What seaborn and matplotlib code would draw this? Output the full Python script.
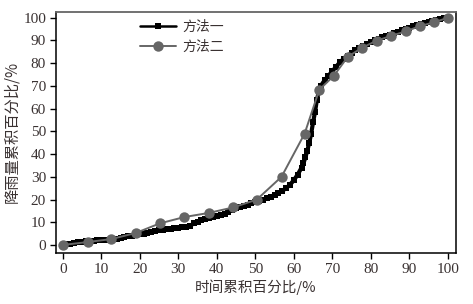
import numpy as np
import pandas as pd
import matplotlib
matplotlib.use("Agg")
import matplotlib.pyplot as plt
import seaborn as sns

# --- Dados ---
# Método 1 (quadrados pretos, curva densa)
x_m1 = [0, 1, 2, 3, 4, 5, 6, 7, 8, 9, 10, 11, 12, 13, 14, 15, 16, 17, 18, 19,
        20, 21, 22, 23, 24, 25, 26, 27, 28, 29, 30, 31, 32, 33, 34, 35, 36, 37, 38, 39,
        40, 41, 42, 43, 44, 45, 46, 47, 48, 49, 50, 51, 52, 53, 54, 55, 56, 57, 58, 59,
        60, 61, 62, 62.5, 63, 63.5, 64, 64.5, 65, 65.5, 66, 66.5, 67, 68, 69,
        70, 71, 72, 73, 74, 75, 76, 77, 78, 79, 80, 81, 82, 83, 84, 85, 86, 87, 88, 89,
        90, 91, 92, 93, 94, 95, 96, 97, 98, 99, 100]
y_m1 = [0, 0.3, 0.6, 0.9, 1.2, 1.5, 1.7, 1.8, 1.9, 2.0, 2.1, 2.2, 2.3, 2.5, 2.8, 3.1, 3.5, 3.8, 4.1, 4.4,
        4.7, 5.0, 5.3, 5.7, 6.1, 6.5, 6.8, 7.0, 7.2, 7.4, 7.6, 7.8, 8.0, 8.3, 9.5, 10.3, 10.8, 11.3, 11.8, 12.3,
        12.7, 13.2, 13.8, 14.6, 15.4, 16.3, 16.8, 17.3, 17.8, 18.3, 18.8, 19.4, 20.0, 20.6, 21.3, 22.0, 22.8, 23.8, 25.0, 26.5,
        28.5, 31.0, 34.0, 36.0, 38.5, 41.5, 45.0, 49.0, 54.0, 58.5, 64.0, 67.5, 70.0, 72.5, 74.5,
        76.5, 78.5, 80.5, 82.0, 83.3, 84.5, 85.6, 86.7, 87.6, 88.5, 89.3, 90.0, 90.7, 91.4, 92.0, 92.6, 93.2, 93.8, 94.4, 95.0,
        95.6, 96.2, 96.8, 97.3, 97.8, 98.2, 98.6, 99.0, 99.4, 99.7, 100]

# Método 2 (círculos cinza)
x_m2 = [0, 6.5, 12.6, 19, 25.2, 31.6, 37.9, 44.2, 50.4, 56.8, 62.8,
        66.6, 70.4, 74, 77.7, 81.5, 85.2, 89, 92.7, 96.4, 100]
y_m2 = [0, 1.3, 2.6, 5.3, 9.5, 12.3, 14.1, 16.5, 20, 30, 49,
        68.3, 74.5, 82.8, 86.8, 89.9, 92, 94, 96.3, 98, 100]

rotulos = ['方法一', '方法二']
ticks = [0, 10, 20, 30, 40, 50, 60, 70, 80, 90, 100]

df1 = pd.DataFrame({'x': x_m1, 'y': y_m1})
df2 = pd.DataFrame({'x': x_m2, 'y': y_m2})

sns.set_style('ticks')
plt.rcParams['font.family'] = ['Liberation Serif', 'Noto Sans CJK SC', 'DejaVu Sans']

fig = plt.figure(figsize=(4.73, 3.04), dpi=100)
ax = fig.add_axes([0.118, 0.168, 0.846, 0.793])

cor_texto = '#3a3232'

sns.lineplot(data=df1, x='x', y='y', ax=ax, color='black', linewidth=3.0,
             marker='s', markersize=4.2, markeredgewidth=0, label=rotulos[0],
             sort=False, estimator=None)
sns.lineplot(data=df2, x='x', y='y', ax=ax, color='#666666', linewidth=1.4,
             marker='o', markersize=7.5, markeredgewidth=0, label=rotulos[1],
             sort=False, estimator=None)

ax.set_xlim(-1.8, 102.1)
ax.set_ylim(-3.5, 102.6)
ax.set_xticks(ticks)
ax.set_yticks(ticks)
ax.tick_params(direction='out', length=4, width=1, colors='black',
               labelsize=11, labelcolor=cor_texto, pad=3)

for lado in ['left', 'bottom', 'right']:
    ax.spines[lado].set_color('black')
    ax.spines[lado].set_linewidth(1.1)
ax.spines['top'].set_color('#666666')
ax.spines['top'].set_linewidth(1.3)

ax.set_xlabel('时间累积百分比/%', fontsize=10.5, color=cor_texto,
              family=['Noto Sans CJK SC', 'DejaVu Sans'], labelpad=3)
ax.set_ylabel('降雨量累积百分比/%', fontsize=11, color=cor_texto,
              family=['Noto Sans CJK SC', 'DejaVu Sans'], labelpad=2)

leg = ax.legend(loc='upper left', bbox_to_anchor=(0.18, 1.02), frameon=False,
                handlelength=2.6, handletextpad=0.4, labelspacing=0.45,
                prop={'family': ['Noto Sans CJK SC', 'DejaVu Sans'], 'size': 10})
for t in leg.get_texts():
    t.set_color(cor_texto)
# linha da legenda do método 1 mais fina, como no original
leg.get_lines()[0].set_linewidth(1.8)
leg.get_lines()[0].set_markersize(5)

fig.savefig('out.png', dpi=100)
plt.close(fig)
